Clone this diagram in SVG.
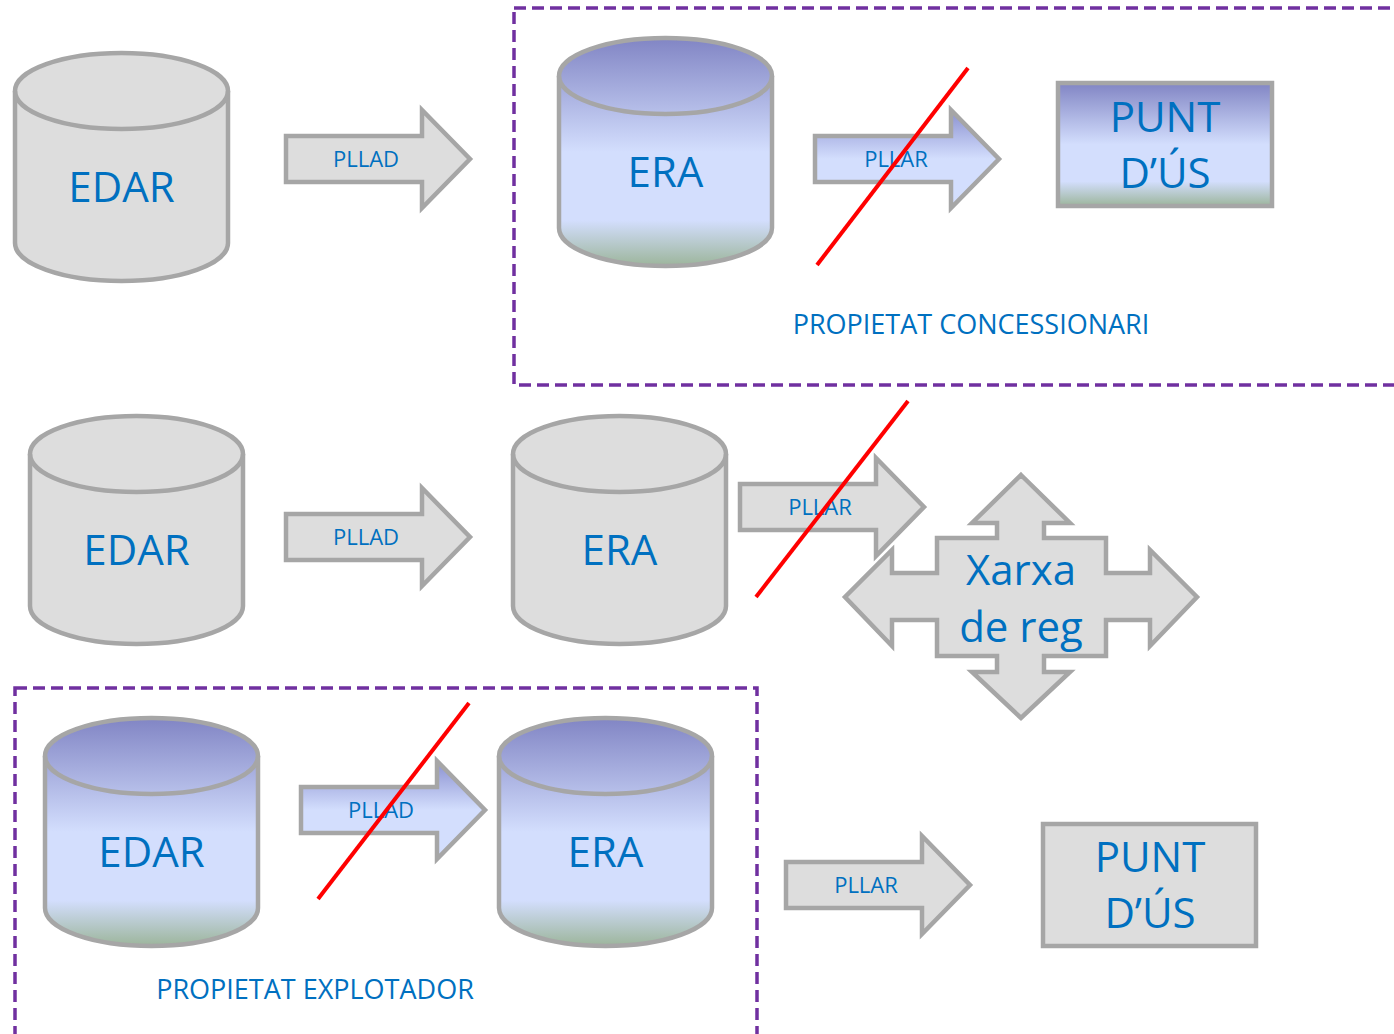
<svg xmlns="http://www.w3.org/2000/svg" width="1394" height="1034" viewBox="0 0 1394 1034">
<style>
.sh{stroke:#a6a6a6;stroke-width:4.5;stroke-linejoin:miter}
.gray{fill:#dddddd}
.grad{fill:url(#gb)}
.agrad{fill:url(#ga)}
.edge{fill:none;stroke:#a6a6a6;stroke-width:4.5}
.big{font-family:"Open Sans","Liberation Sans",sans-serif;font-size:42px;fill:#0070c0;text-anchor:middle}
.sm{font-family:"Open Sans","Liberation Sans",sans-serif;font-size:22px;fill:#0070c0;text-anchor:middle}
.lbl{font-family:"Open Sans","Liberation Sans",sans-serif;font-size:27px;fill:#0070c0;text-anchor:middle}
.box{fill:none;stroke:#7030a0;stroke-width:3.5;stroke-dasharray:12 6}
.x{stroke:#ff0000;stroke-width:4;fill:none}
</style>
<defs>
<linearGradient id="gb" x1="0" y1="0" x2="0" y2="1">
<stop offset="0" stop-color="#8185c4"/>
<stop offset="0.5" stop-color="#d3defd"/>
<stop offset="0.8" stop-color="#d3defd"/>
<stop offset="1" stop-color="#9cb59b"/>
</linearGradient>
<linearGradient id="ga" x1="0" y1="0" x2="0" y2="1">
<stop offset="0" stop-color="#8a90d0"/>
<stop offset="0.5" stop-color="#d3defd"/>
<stop offset="1" stop-color="#d3defd"/>
</linearGradient>
</defs>

<rect class="box" x="514" y="8" width="900" height="377"/>
<rect class="box" x="15" y="688" width="742" height="360"/>
<text class="lbl" x="971" y="334">PROPIETAT CONCESSIONARI</text>
<text class="lbl" x="315" y="999">PROPIETAT EXPLOTADOR</text>

<g id="edar1" transform="translate(15,53)">
<path class="sh gray" d="M0,38 A106.5,38 0 0 1 213,38 L213,190 A106.5,38 0 0 1 0,190 Z"/>
<path class="edge" d="M0,38 A106.5,38 0 0 0 213,38"/>
<text class="big" x="106.5" y="149">EDAR</text>
</g>
<g id="era1" transform="translate(559,38)">
<path class="sh grad" d="M0,38 A106.5,38 0 0 1 213,38 L213,190 A106.5,38 0 0 1 0,190 Z"/>
<path class="edge" d="M0,38 A106.5,38 0 0 0 213,38"/>
<text class="big" x="106.5" y="149">ERA</text>
</g>
<g id="punt1">
<rect class="sh grad" x="1058" y="83" width="214" height="123"/>
<text class="big" x="1165" y="132">PUNT</text>
<text class="big" x="1165" y="188">D’ÚS</text>
</g>

<g id="edar2" transform="translate(30,416)">
<path class="sh gray" d="M0,38 A106.5,38 0 0 1 213,38 L213,190 A106.5,38 0 0 1 0,190 Z"/>
<path class="edge" d="M0,38 A106.5,38 0 0 0 213,38"/>
<text class="big" x="106.5" y="149">EDAR</text>
</g>
<g id="era2" transform="translate(513,416)">
<path class="sh gray" d="M0,38 A106.5,38 0 0 1 213,38 L213,190 A106.5,38 0 0 1 0,190 Z"/>
<path class="edge" d="M0,38 A106.5,38 0 0 0 213,38"/>
<text class="big" x="106.5" y="149">ERA</text>
</g>
<g id="xarxa">
<path class="sh gray" d="M1021,475 L1070,523 L1044,523 L1044,538 L1106,538 L1106,573 L1150,573 L1150,550 L1197,597 L1150,646 L1150,620 L1106,620 L1106,656 L1044,656 L1044,672 L1070,672 L1021,718 L972,672 L997,672 L997,656 L937,656 L937,620 L892,620 L892,646 L845,597 L892,550 L892,573 L937,573 L937,538 L997,538 L997,523 L972,523 Z"/>
<text class="big" x="1021" y="585">Xarxa</text>
<text class="big" x="1021" y="642">de reg</text>
</g>

<g id="edar3" transform="translate(45,718)">
<path class="sh grad" d="M0,38 A106.5,38 0 0 1 213,38 L213,190 A106.5,38 0 0 1 0,190 Z"/>
<path class="edge" d="M0,38 A106.5,38 0 0 0 213,38"/>
<text class="big" x="106.5" y="149">EDAR</text>
</g>
<g id="era3" transform="translate(499,718)">
<path class="sh grad" d="M0,38 A106.5,38 0 0 1 213,38 L213,190 A106.5,38 0 0 1 0,190 Z"/>
<path class="edge" d="M0,38 A106.5,38 0 0 0 213,38"/>
<text class="big" x="106.5" y="149">ERA</text>
</g>
<g id="punt3">
<rect class="sh gray" x="1043" y="824" width="213" height="122"/>
<text class="big" x="1150" y="872">PUNT</text>
<text class="big" x="1150" y="928">D’ÚS</text>
</g>

<g id="connectors">
<g id="pllad1" transform="translate(286,110)">
<path class="sh gray" d="M0,26 H136 V0 L184,49 L136,98 V72 H0 Z"/>
<text class="sm" x="80" y="57">PLLAD</text>
</g>
<g id="pllar1" transform="translate(815,110)">
<path class="sh agrad" d="M0,26 H136 V0 L184,49 L136,98 V72 H0 Z"/>
<text class="sm" x="81" y="57">PLLAR</text>
</g>
<g id="pllad2" transform="translate(286,488)">
<path class="sh gray" d="M0,26 H136 V0 L184,49 L136,98 V72 H0 Z"/>
<text class="sm" x="80" y="57">PLLAD</text>
</g>
<g id="pllar2" transform="translate(740,458)">
<path class="sh gray" d="M0,26 H136 V0 L184,49 L136,98 V72 H0 Z"/>
<text class="sm" x="80" y="57">PLLAR</text>
</g>
<g id="pllad3" transform="translate(301,761)">
<path class="sh agrad" d="M0,26 H136 V0 L184,49 L136,98 V72 H0 Z"/>
<text class="sm" x="80" y="57">PLLAD</text>
</g>
<g id="pllar3" transform="translate(786,836)">
<path class="sh gray" d="M0,26 H136 V0 L184,49 L136,98 V72 H0 Z"/>
<text class="sm" x="80" y="57">PLLAR</text>
</g>
<line class="x" x1="817" y1="265" x2="968" y2="68"/>
<line class="x" x1="756" y1="597" x2="908" y2="401"/>
<line class="x" x1="318" y1="899" x2="469" y2="703"/>
</g>
</svg>
